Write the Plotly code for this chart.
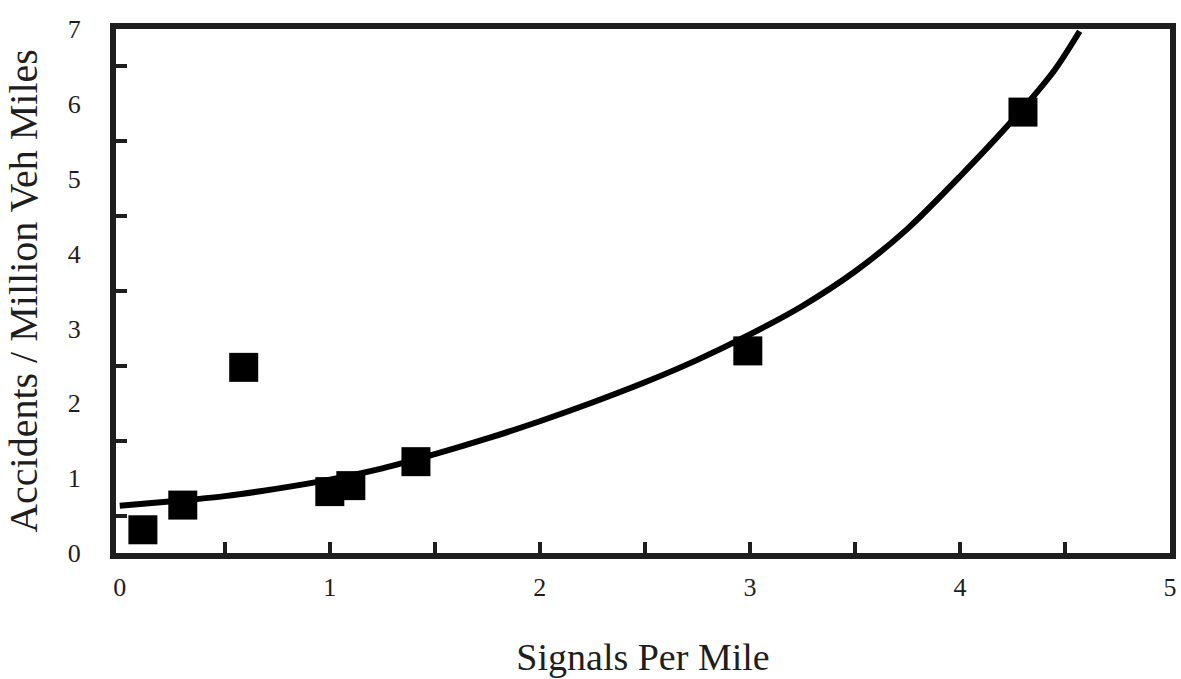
import plotly.graph_objects as go

# Observed data points
signals = [0.11, 0.30, 0.59, 1.00, 1.10, 1.41, 2.99, 4.30]
accidents = [0.31, 0.64, 2.48, 0.82, 0.90, 1.22, 2.70, 5.89]

# Fitted curve
curve_x = [0.0, 0.25, 0.5, 0.75, 1.0, 1.25, 1.5, 1.75, 2.0, 2.25, 2.5, 2.75, 3.0,
           3.25, 3.5, 3.75, 4.0, 4.25, 4.45, 4.57]
curve_y = [0.63, 0.69, 0.76, 0.86, 0.98, 1.13, 1.32, 1.53, 1.76, 2.01, 2.28, 2.58, 2.92,
           3.30, 3.76, 4.33, 5.03, 5.78, 6.45, 6.97]

x_labelvals = [0, 1, 2, 3, 4, 5]
x_minor_ticks = [0.5, 1, 1.5, 2, 2.5, 3, 3.5, 4, 4.5]
y_labelvals = [0, 1, 2, 3, 4, 5, 6, 7]
y_minor_ticks = [0.5, 1.5, 2.5, 3.5, 4.5, 5.5, 6.5]

ink = "#1e1e1e"
serif = "Times New Roman"

fig = go.Figure()
fig.add_trace(go.Scatter(x=curve_x, y=curve_y, mode="lines",
                         line=dict(color="black", width=6, shape="spline", smoothing=0.8),
                         hoverinfo="skip", showlegend=False))
fig.add_trace(go.Scatter(x=signals, y=accidents, mode="markers",
                         marker=dict(symbol="square", size=29, color="black"),
                         showlegend=False))

fig.update_layout(
    width=1181, height=679,
    margin=dict(l=116, r=11, t=29, b=126),
    paper_bgcolor="white", plot_bgcolor="white",
    font=dict(family=serif, color=ink),
    xaxis=dict(range=[-0.018, 5], tickvals=x_labelvals, ticks="",
               automargin=False,
               minor=dict(tickvals=x_minor_ticks, ticks="inside", ticklen=11,
                          tickwidth=4, tickcolor=ink, showgrid=False),
               showline=True, linewidth=6, linecolor=ink, mirror=True,
               showgrid=False, zeroline=False,
               tickfont=dict(size=26, family=serif, color=ink),
               ticklabelstandoff=6,
               title=dict(text="Signals Per Mile", font=dict(size=38, family=serif, color=ink),
                          standoff=44)),
    yaxis=dict(range=[0, 7], tickvals=y_labelvals, ticks="",
               automargin=False,
               minor=dict(tickvals=y_minor_ticks, ticks="inside", ticklen=11,
                          tickwidth=4, tickcolor=ink, showgrid=False),
               showline=True, linewidth=6, linecolor=ink, mirror=True,
               showgrid=False, zeroline=False,
               tickfont=dict(size=26, family=serif, color=ink),
               ticklabelstandoff=24,
               title=dict(text="Accidents / Million Veh Miles", font=dict(size=40, family=serif, color=ink),
                          standoff=20)),
)

fig.write_html("out.html", post_script="document.body.style.margin='0';",
               config={"displayModeBar": False})
